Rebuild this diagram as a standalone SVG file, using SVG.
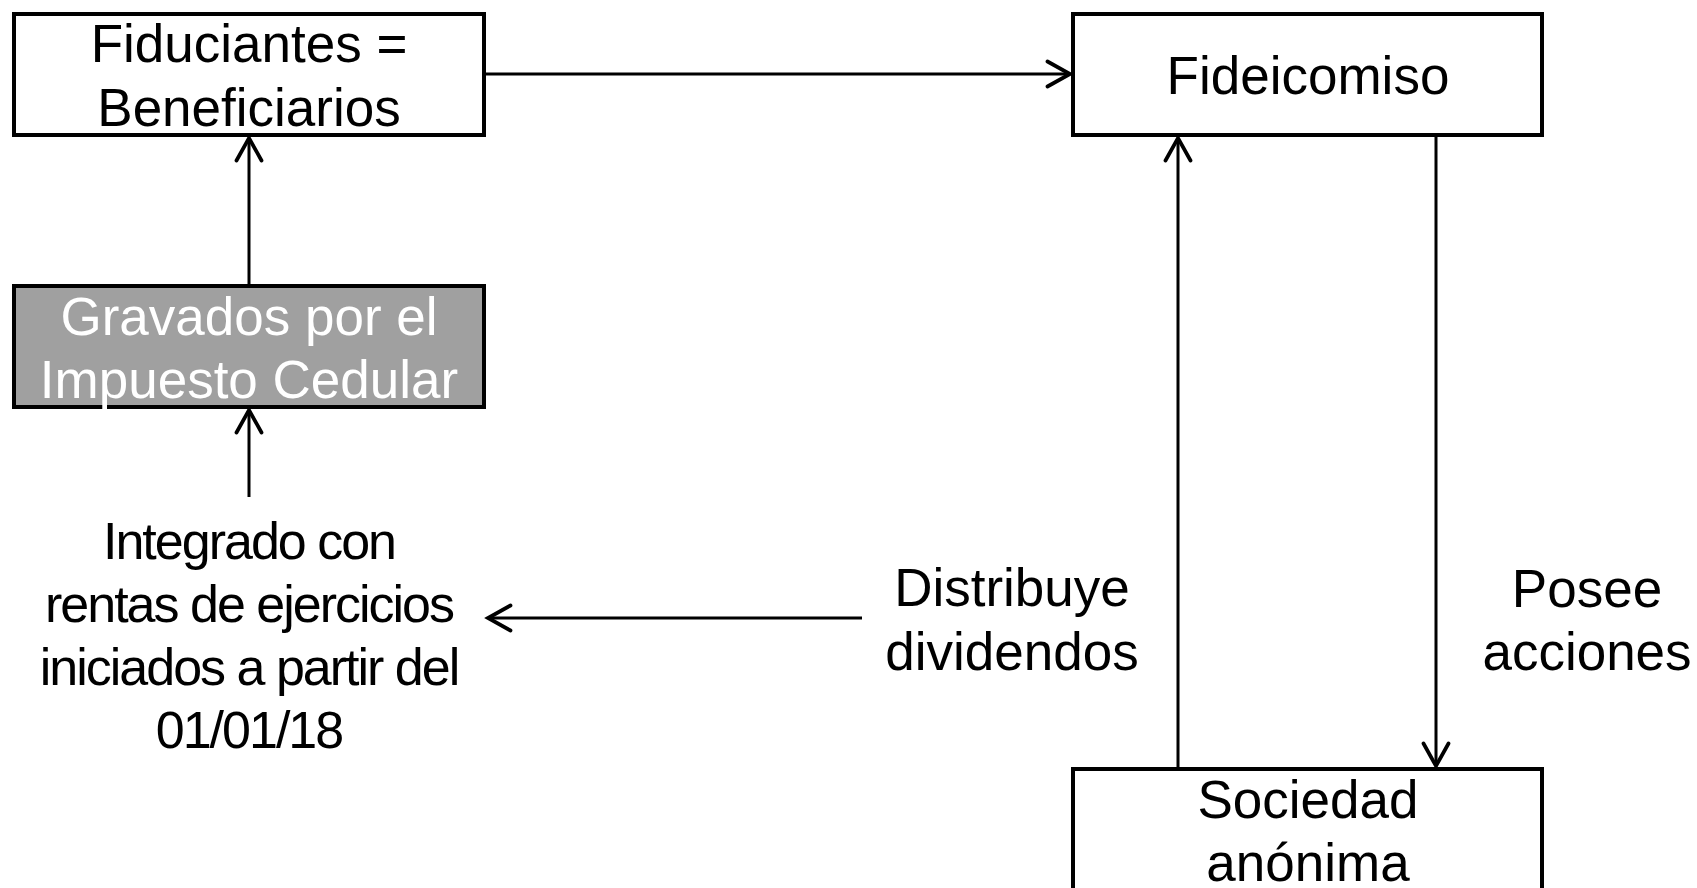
<svg xmlns="http://www.w3.org/2000/svg" width="1697" height="888" viewBox="0 0 1697 888">
<style>
.box{fill:#fff;stroke:#000;stroke-width:4}
.gray{fill:#a0a0a0;stroke:#000;stroke-width:4}
.t{font-family:"Liberation Sans",Arial,sans-serif;font-size:53px;fill:#000;text-anchor:middle}
.n{font-size:52px;letter-spacing:-2px}
.w{fill:#fff}
.c{stroke:#000;stroke-width:3;fill:none;marker-end:url(#arr)}
</style>
<defs>
<marker id="arr" markerUnits="userSpaceOnUse" markerWidth="30" markerHeight="30" viewBox="-20 -12 24 24" refX="0" refY="0" orient="auto">
<path d="M-18,-10 L0,0 L-18,10" fill="none" stroke="#000" stroke-width="3" stroke-linecap="round" stroke-linejoin="miter"/>
</marker>
</defs>
<rect width="1697" height="888" fill="#fff"/>
<g id="connectors">
<line class="c" x1="486" y1="74" x2="1070" y2="74"/>
<line class="c" x1="249" y1="286" x2="249" y2="138"/>
<line class="c" x1="249" y1="497" x2="249" y2="410"/>
<line class="c" x1="862" y1="618" x2="488" y2="618"/>
<line class="c" x1="1178" y1="769" x2="1178" y2="138"/>
<line class="c" x1="1436" y1="135" x2="1436" y2="766"/>
</g>
<g id="fiduciantes">
<rect class="box" x="14" y="14" width="470" height="121"/>
<text class="t" x="249" y="62">Fiduciantes =</text>
<text class="t" x="249" y="126">Beneficiarios</text>
</g>
<g id="gravados">
<rect class="gray" x="14" y="286" width="470" height="121"/>
<text class="t w" x="249" y="335">Gravados por el</text>
<text class="t w" x="249" y="398">Impuesto Cedular</text>
</g>
<g id="integrado">
<text class="t n" x="249" y="559">Integrado con</text>
<text class="t n" x="249" y="622">rentas de ejercicios</text>
<text class="t n" x="249" y="685">iniciados a partir del</text>
<text class="t n" x="249" y="748">01/01/18</text>
</g>
<g id="fideicomiso">
<rect class="box" x="1073" y="14" width="469" height="121"/>
<text class="t" x="1308" y="94">Fideicomiso</text>
</g>
<g id="distribuye">
<text class="t" x="1012" y="606">Distribuye</text>
<text class="t" x="1012" y="670">dividendos</text>
</g>
<g id="posee">
<text class="t" x="1587" y="607">Posee</text>
<text class="t" x="1587" y="670">acciones</text>
</g>
<g id="sociedad">
<rect class="box" x="1073" y="769" width="469" height="140"/>
<text class="t" x="1308" y="818">Sociedad</text>
<text class="t" x="1308" y="881">anónima</text>
</g>
</svg>
